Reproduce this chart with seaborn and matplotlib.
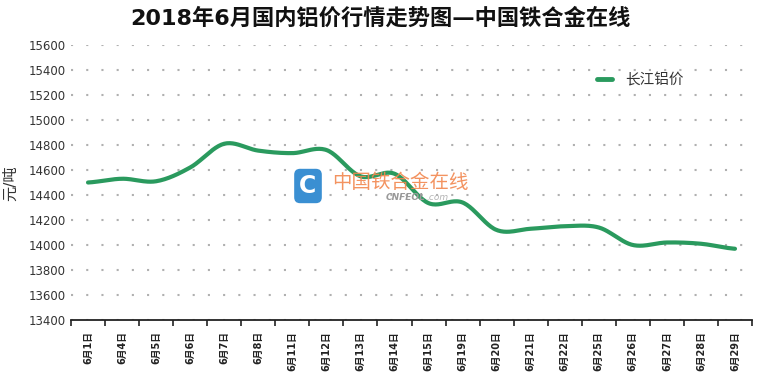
import numpy as np
import pandas as pd
import seaborn as sns
import matplotlib.pyplot as plt
from matplotlib.ticker import FixedLocator

sns.set_theme(style="white")
plt.rcParams['font.family'] = ['DejaVu Sans', 'Noto Sans CJK SC']

title = "2018年6月国内铝价行情走势图—中国铁合金在线"
series_name = "长江铝价"
y_label = "元/吨"
dates = ["6月1日", "6月4日", "6月5日", "6月6日", "6月7日", "6月8日", "6月11日",
         "6月12日", "6月13日", "6月14日", "6月15日", "6月19日", "6月20日", "6月21日",
         "6月22日", "6月25日", "6月26日", "6月27日", "6月28日", "6月29日"]
prices = [14500, 14530, 14510, 14620, 14810, 14755, 14735, 14760, 14550, 14570,
          14335, 14340, 14120, 14130, 14150, 14140, 14000, 14020, 14010, 13970]
y_ticks = list(range(13400, 15601, 200))

# smooth drawing curve through the data points (Catmull-Rom, drawing only)
def smooth_curve(y, steps=24):
    y = np.asarray(y, dtype=float)
    n = len(y)
    xs, ys = [], []
    for i in range(n - 1):
        p0 = y[i - 1] if i > 0 else y[i]
        p1, p2 = y[i], y[i + 1]
        p3 = y[i + 2] if i + 2 < n else y[i + 1]
        t = np.linspace(0, 1, steps, endpoint=False)
        v = 0.5 * ((2 * p1) + (-p0 + p2) * t + (2 * p0 - 5 * p1 + 4 * p2 - p3) * t ** 2
                   + (-p0 + 3 * p1 - 3 * p2 + p3) * t ** 3)
        xs.extend(i + t)
        ys.extend(v)
    xs.append(n - 1)
    ys.append(y[-1])
    return np.array(xs), np.array(ys)

sx, sy = smooth_curve(prices)
df = pd.DataFrame({"x": sx, "price": sy, "series": series_name})

W, H = 760, 372
fig = plt.figure(figsize=(W / 100, H / 100), dpi=100)
ax = fig.add_axes([71 / W, (H - 320) / H, (752 - 71) / W, 275 / H])

line_color = "#2a9a5e"
sns.lineplot(data=df, x="x", y="price", hue="series", palette=[line_color],
             linewidth=3.0, ax=ax, sort=False, zorder=3)

ax.set_xlim(-0.5, len(dates) - 0.5)
ax.set_ylim(13400, 15600)

# grid
ax.set_yticks(y_ticks)
ax.yaxis.grid(True, color="#b0b0b0", linestyle=(0, (1, 6.3)), linewidth=1.5)
ax.xaxis.grid(False)
ax.set_yticklabels([str(v) for v in y_ticks], fontsize=8.5, color="#333333")
ax.tick_params(axis="y", length=0, pad=4)

# x axis
ax.set_xticks(range(len(dates)))
ax.set_xticklabels(dates, rotation=90, fontsize=7, fontweight="bold", color="#222222",
                   va="top", ha="center")
ax.xaxis.set_minor_locator(FixedLocator(np.arange(-0.5, len(dates), 1.0)))
ax.tick_params(axis="x", which="major", length=0, pad=8)
ax.tick_params(axis="x", which="minor", length=4.5, width=1.2, color="#222222", bottom=True)

for s in ["top", "right", "left"]:
    ax.spines[s].set_visible(False)
ax.spines["bottom"].set_color("#222222")
ax.spines["bottom"].set_linewidth(1.3)

ax.set_xlabel("")
ax.set_ylabel("")
fig.text(11 / W, 1 - 183 / H, y_label, rotation=90, ha="center", va="center",
         fontsize=11, color="#333333")

leg = ax.legend(loc="center left", bbox_to_anchor=((597 - 71) / 681, 1 - 35 / 275),
                frameon=False, fontsize=10.5, handlelength=1.05, handletextpad=0.9,
                borderpad=0, borderaxespad=0)
for t in leg.get_texts():
    t.set_color("#333333")
for h in leg.get_lines():
    h.set_linewidth(3.5)

fig.text(0.5, 1 - 18 / H, title, ha="center", va="center", fontsize=16,
         fontweight="bold", color="#111111")

# watermark
fig.text(308 / W, 1 - 186 / H, "C", ha="center", va="center", fontsize=17,
         fontweight="bold", color="white", zorder=1,
         bbox=dict(boxstyle="round,pad=0.22,rounding_size=0.25", fc="#3a8fd2", ec="none"))
fig.text(332 / W, 1 - 182 / H, "中国铁合金在线", ha="left", va="center", fontsize=14,
         color="#f2874f", alpha=0.9, family=['Noto Sans CJK SC', 'DejaVu Sans'])
fig.text(386 / W, 1 - 197 / H, "CNFEOL", ha="left", va="center", fontsize=6.5,
         color="#999999", style="italic", fontweight="bold")
fig.text(426 / W, 1 - 197 / H, ".com", ha="left", va="center", fontsize=6.5,
         color="#b5b5b5", style="italic")

fig.savefig("out.png", dpi=100)
